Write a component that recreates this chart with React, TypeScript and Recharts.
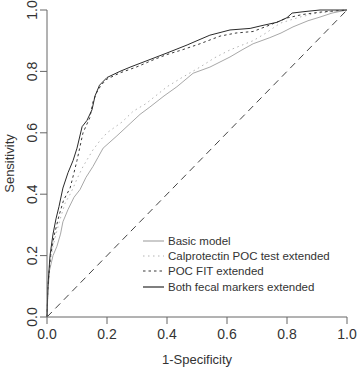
import React from 'react';
import { LineChart, Line, XAxis, YAxis, ReferenceLine } from 'recharts';

// ROC curves (1-specificity vs sensitivity)
const basicFpr = [0, 0.003, 0.008, 0.02, 0.033, 0.045, 0.053, 0.07, 0.09, 0.11, 0.13, 0.153, 0.17, 0.187, 0.21, 0.233, 0.277, 0.31, 0.343, 0.39, 0.433, 0.487, 0.543, 0.61, 0.65, 0.687, 0.743, 0.78, 0.82, 0.87, 0.91, 0.95, 1];
const basicTpr = [0, 0.08, 0.15, 0.2, 0.23, 0.27, 0.31, 0.35, 0.39, 0.415, 0.455, 0.49, 0.52, 0.55, 0.57, 0.59, 0.63, 0.66, 0.684, 0.72, 0.75, 0.794, 0.814, 0.847, 0.87, 0.89, 0.91, 0.925, 0.945, 0.965, 0.977, 0.99, 1];

const calproFpr = [0, 0.003, 0.01, 0.02, 0.03, 0.043, 0.06, 0.077, 0.087, 0.1, 0.12, 0.153, 0.177, 0.2, 0.25, 0.287, 0.33, 0.4, 0.45, 0.51, 0.56, 0.61, 0.687, 0.73, 0.777, 0.843, 0.9, 1];
const calproTpr = [0, 0.1, 0.18, 0.23, 0.27, 0.316, 0.37, 0.4, 0.42, 0.45, 0.49, 0.544, 0.575, 0.6, 0.635, 0.67, 0.695, 0.75, 0.78, 0.814, 0.845, 0.87, 0.9, 0.925, 0.957, 0.977, 0.99, 1];

const fitFpr = [0, 0.003, 0.012, 0.025, 0.04, 0.055, 0.077, 0.09, 0.1, 0.12, 0.143, 0.153, 0.165, 0.18, 0.2, 0.243, 0.3, 0.36, 0.4, 0.45, 0.51, 0.577, 0.63, 0.687, 0.74, 0.8, 0.85, 0.91, 1];
const fitTpr = [0, 0.1, 0.2, 0.27, 0.33, 0.38, 0.42, 0.47, 0.51, 0.6, 0.65, 0.7, 0.73, 0.755, 0.775, 0.795, 0.815, 0.84, 0.855, 0.87, 0.89, 0.915, 0.925, 0.93, 0.95, 0.974, 0.985, 0.993, 1];

const bothFpr = [0, 0.003, 0.01, 0.02, 0.03, 0.04, 0.053, 0.07, 0.087, 0.1, 0.117, 0.133, 0.15, 0.16, 0.175, 0.2, 0.243, 0.28, 0.32, 0.36, 0.4, 0.467, 0.5, 0.543, 0.61, 0.677, 0.72, 0.767, 0.8, 0.817, 0.86, 0.91, 1];
const bothTpr = [0, 0.1, 0.2, 0.27, 0.32, 0.36, 0.42, 0.47, 0.51, 0.55, 0.62, 0.64, 0.675, 0.72, 0.755, 0.78, 0.8, 0.815, 0.83, 0.845, 0.86, 0.886, 0.9, 0.918, 0.935, 0.94, 0.95, 0.96, 0.975, 0.99, 0.995, 1, 1];

const ticks = [0, 0.2, 0.4, 0.6, 0.8, 1];

const toPoints = (xs: number[], ys: number[]) => xs.map((x, i) => ({ x, y: ys[i] }));

const series = [
  { name: 'Basic model', data: toPoints(basicFpr, basicTpr), color: '#a8a8a8', dash: undefined },
  { name: 'Calprotectin POC test extended', data: toPoints(calproFpr, calproTpr), color: '#b4b4b4', dash: '1.5 3.5' },
  { name: 'POC FIT extended', data: toPoints(fitFpr, fitTpr), color: '#3a3a3a', dash: '2.5 3' },
  { name: 'Both fecal markers extended', data: toPoints(bothFpr, bothTpr), color: '#2a2a2a', dash: undefined },
];

const font = '"Liberation Sans", Arial, sans-serif';

const YTick = (props: any) => {
  const { x, y, payload } = props;
  return (
    <text x={x} y={y} transform={`rotate(-90 ${x} ${y})`} textAnchor="middle" fontSize={14} fill="#333" fontFamily={font}>
      {Number(payload.value).toFixed(1)}
    </text>
  );
};

export default function App() {
  return (
    <div style={{ position: 'relative', width: 358, height: 369, background: '#fff' }}>
      <style>{'body{margin:0}'}</style>
      <LineChart width={358} height={369} margin={{ top: 10, right: 11, bottom: 0, left: 0 }}>
        <XAxis
          type="number"
          dataKey="x"
          domain={[0, 1]}
          ticks={ticks}
          tickFormatter={(v: number) => v.toFixed(1)}
          height={52}
          tickSize={7}
          tickMargin={5}
          stroke="#666"
          tick={{ fill: '#333', fontSize: 14, fontFamily: font }}
          label={{ value: '1-Specificity', position: 'insideBottom', offset: 5, fill: '#333', fontSize: 13, fontFamily: font }}
        />
        <YAxis
          type="number"
          dataKey="y"
          domain={[0, 1]}
          ticks={ticks}
          width={47}
          tickSize={7}
          tickMargin={3}
          stroke="#666"
          tick={<YTick />}
          label={{
            content: (p: any) => {
              const vb = p.viewBox;
              const cx = 14;
              const cy = vb.y + vb.height / 2;
              return (
                <text x={cx} y={cy} transform={`rotate(-90 ${cx} ${cy})`} textAnchor="middle" fontSize={13} fill="#333" fontFamily={font}>
                  Sensitivity
                </text>
              );
            },
          }}
        />
        <ReferenceLine segment={[{ x: 0, y: 0 }, { x: 1, y: 1 }]} stroke="#444" strokeDasharray="7 5" strokeWidth={1} />
        {series.map((s) => (
          <Line
            key={s.name}
            data={s.data}
            dataKey="y"
            type="linear"
            dot={false}
            stroke={s.color}
            strokeWidth={1}
            strokeDasharray={s.dash}
            isAnimationActive={false}
          />
        ))}
      </LineChart>
      <div style={{ position: 'absolute', left: 143, top: 233, fontFamily: font, fontSize: 11.5, color: '#333' }}>
        {series.map((s) => (
          <div key={s.name} style={{ display: 'flex', alignItems: 'center', height: 15.3 }}>
            <svg width={21} height={10} style={{ marginRight: 4 }}>
              <line x1={0} y1={5} x2={21} y2={5} stroke={s.color} strokeWidth={1.2} strokeDasharray={s.dash} />
            </svg>
            <span>{s.name}</span>
          </div>
        ))}
      </div>
    </div>
  );
}
